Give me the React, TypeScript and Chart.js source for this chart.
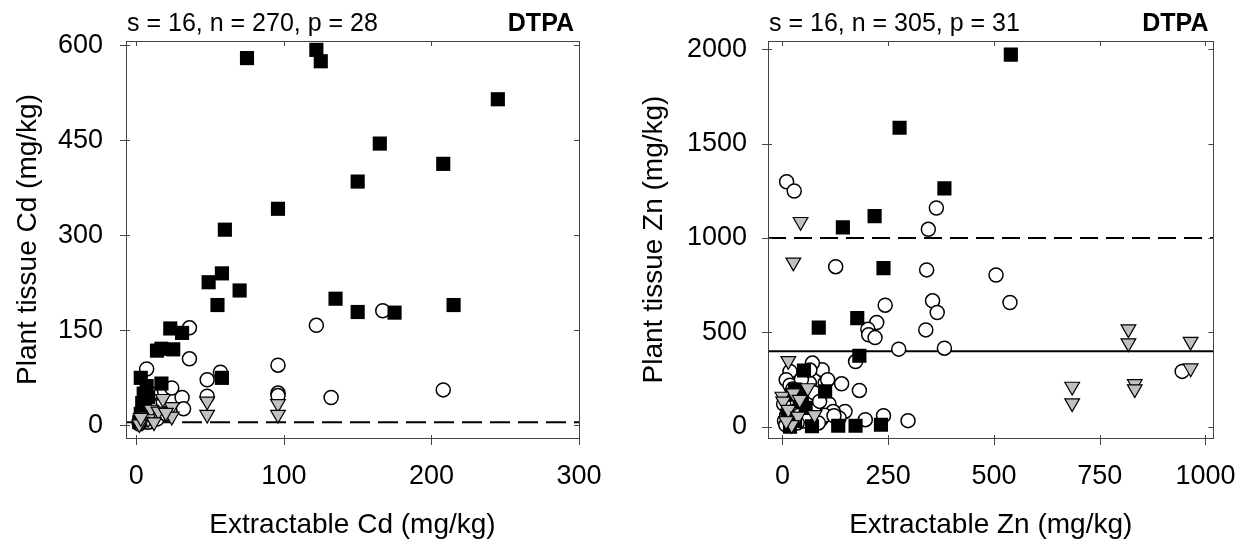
import React, { useEffect, useRef } from 'react';
import { Chart, registerables } from 'chart.js';
Chart.register(...registerables);

const FONT = "'Liberation Sans', Arial, Helvetica, sans-serif";

// ---------- Left panel: Cd ----------
const cdSquareX = [75, 122, 125, 245, 165, 208, 150, 96, 60, 58, 49, 70, 55, 135, 150, 175, 215, 23, 31, 14, 17, 25, 58, 3, 17, 7, 5, 8, 4, 6, 3, 5, 2];
const cdSquareY = [580, 593, 575, 515, 445, 413, 385, 342, 309, 240, 226, 213, 190, 200, 179, 178, 190, 153, 146, 118, 121, 120, 75, 75, 66, 62, 50, 45, 35, 28, 18, 10, 5];
const cdCircleX = [36, 122, 167, 36, 96, 48, 57, 7, 24, 31, 32, 208, 132, 96, 96, 48, 16, 12, 9, 5, 3, 8, 14, 20, 2, 6, 10, 4];
const cdCircleY = [154, 158, 181, 105, 95, 72, 84, 89, 59, 44, 26, 56, 44, 51, 47, 46, 30, 22, 35, 15, 8, 5, 10, 18, 2, 40, 50, 25];
const cdTriX = [48, 48, 96, 96, 24, 24, 18, 13, 6, 10, 8, 4, 2, 15, 20, 12, 3];
const cdTriY = [38, 17, 34, 17, 29, 14, 42, 17, 14, 25, 10, 6, 2, 22, 20, 5, 12];
const cdXTicks = [0, 100, 200, 300];
const cdYTicks = [0, 150, 300, 450, 600];
const cdLimit = 5;

// ---------- Right panel: Zn ----------
const znSquareX = [540, 277, 383, 218, 143, 239, 86, 177, 182, 51, 101, 30, 41, 46, 22, 70, 132, 173, 233, 18, 12, 30, 55];
const znSquareY = [1972, 1584, 1263, 1116, 1056, 840, 525, 575, 376, 298, 187, 196, 134, 169, 169, 2, 5, 5, 10, 0, 60, 30, 100];
const znCircleX = [10, 28, 364, 345, 126, 341, 505, 538, 243, 355, 366, 223, 202, 204, 219, 339, 275, 383, 945, 173, 140, 182, 297, 239, 196, 148, 134, 101, 94, 71, 18, 9, 18, 80, 92, 101, 64, 5, 10, 15, 20, 8, 30, 40, 50, 60, 45, 25, 65, 75, 55, 110, 120, 100, 85, 3, 35, 88, 122, 107];
const znCircleY = [1298, 1249, 1159, 1046, 848, 831, 804, 658, 644, 667, 605, 552, 517, 487, 472, 513, 411, 416, 293, 345, 227, 192, 32, 58, 37, 81, 46, 107, 302, 337, 293, 249, 220, 116, 41, 231, 231, 30, 60, 100, 150, 10, 80, 60, 30, 150, 250, 200, 300, 180, 60, 120, 80, 60, 20, 120, 20, 134, 58, 249];
const znTriX = [43, 26, 818, 818, 965, 965, 685, 685, 833, 833, 14, 60, 76, 0, 2, 14, 37, 26, 41, 22, 9];
const znTriY = [1086, 871, 517, 443, 451, 310, 213, 125, 227, 199, 349, 205, 63, 160, 134, 90, 55, 178, 143, 10, 30];
const znXTicks = [0, 250, 500, 750, 1000];
const znYTicks = [0, 500, 1000, 1500, 2000];
const znUpper = 1000;
const znLower = 400;

const zip = (xs: number[], ys: number[]) => xs.map((x, i) => ({ x, y: ys[i] }));

type Panel = {
  note: string;
  xTitle: string;
  yTitle: string;
  xMin: number; xMax: number; yMin: number; yMax: number;
  xTicks: number[]; yTicks: number[];
  sqX: number[]; sqY: number[]; ciX: number[]; ciY: number[]; trX: number[]; trY: number[];
  lines: { value: number; dash: number[] }[];
  yWidth: number; padRight: number; yTitlePad: number; yTickPad: number;
};

function framePlugin(p: Panel) {
  return {
    id: 'frame',
    beforeDatasetsDraw(chart: any) {
      const { ctx, chartArea: a, scales } = chart;
      ctx.save();
      ctx.strokeStyle = '#000';
      ctx.lineWidth = 2;
      for (const l of p.lines) {
        const y = scales.y.getPixelForValue(l.value);
        ctx.setLineDash(l.dash);
        ctx.beginPath();
        ctx.moveTo(a.left, y);
        ctx.lineTo(a.right, y);
        ctx.stroke();
      }
      ctx.restore();
    },
    afterDatasetsDraw(chart: any) {
      const { ctx, chartArea: a, scales } = chart;
      ctx.save();
      ctx.strokeStyle = '#444';
      ctx.lineWidth = 1;
      ctx.strokeRect(Math.round(a.left) + 0.5, Math.round(a.top) + 0.5, Math.round(a.right - a.left), Math.round(a.bottom - a.top));
      ctx.beginPath();
      for (const v of p.xTicks) {
        const x = Math.round(scales.x.getPixelForValue(v)) + 0.5;
        ctx.moveTo(x, a.bottom - 3); ctx.lineTo(x, a.bottom + 7);
        ctx.moveTo(x, a.top); ctx.lineTo(x, a.top + 5);
      }
      for (const v of p.yTicks) {
        const y = Math.round(scales.y.getPixelForValue(v)) + 0.5;
        ctx.moveTo(a.left - 6, y); ctx.lineTo(a.left + 4, y);
        ctx.moveTo(a.right - 5, y); ctx.lineTo(a.right, y);
      }
      ctx.stroke();
      ctx.fillStyle = '#000';
      ctx.textBaseline = 'alphabetic';
      ctx.font = `25px ${FONT}`;
      ctx.textAlign = 'left';
      ctx.fillText(p.note, a.left + 1, 31);
      ctx.font = `bold 25px ${FONT}`;
      ctx.textAlign = 'right';
      ctx.fillText('DTPA', a.right - 5, 31);
      ctx.restore();
    },
  };
}

function makeChart(canvas: HTMLCanvasElement, p: Panel) {
  const tickFont = { family: FONT, size: 27 };
  const titleFont = { family: FONT, size: 28 };
  return new Chart(canvas, {
    type: 'scatter',
    data: {
      datasets: [
        {
          label: 'triangles',
          data: zip(p.trX, p.trY),
          pointStyle: 'triangle',
          pointRotation: 180,
          pointRadius: 8.5,
          pointBackgroundColor: '#c0c0c0',
          pointBorderColor: '#000',
          pointBorderWidth: 1.2,
        },
        {
          label: 'squares',
          data: zip(p.sqX, p.sqY),
          pointStyle: 'rect',
          pointRadius: 10,
          pointBackgroundColor: '#000',
          pointBorderColor: '#000',
          pointBorderWidth: 0,
        },
        {
          label: 'circles',
          data: zip(p.ciX, p.ciY),
          pointStyle: 'circle',
          pointRadius: 7,
          pointBackgroundColor: '#fff',
          pointBorderColor: '#000',
          pointBorderWidth: 1.5,
        },
      ] as any,
    },
    options: {
      animation: false,
      responsive: false,
      events: [],
      layout: { padding: { top: 41, right: p.padRight, left: 0, bottom: 0 } },
      plugins: { legend: { display: false }, tooltip: { enabled: false } },
      scales: {
        x: {
          type: 'linear',
          min: p.xMin,
          max: p.xMax,
          afterBuildTicks: (s: any) => { s.ticks = p.xTicks.map((v) => ({ value: v })); },
          afterFit: (s: any) => { s.height = 110; },
          grid: { display: false, drawTicks: true, tickLength: 7 },
          border: { display: false },
          ticks: { font: tickFont, color: '#000', padding: 15, maxRotation: 0, autoSkip: false, callback: (v: any) => String(v) },
          title: { display: true, text: p.xTitle, font: titleFont, color: '#000', padding: { top: 0, bottom: 6 } },
        },
        y: {
          type: 'linear',
          min: p.yMin,
          max: p.yMax,
          afterBuildTicks: (s: any) => { s.ticks = p.yTicks.map((v) => ({ value: v })); },
          afterFit: (s: any) => { s.width = p.yWidth; },
          grid: { display: false, drawTicks: true, tickLength: 6 },
          border: { display: false },
          ticks: { font: tickFont, color: '#000', padding: p.yTickPad, autoSkip: false, callback: (v: any) => String(v) },
          title: { display: true, text: p.yTitle, font: titleFont, color: '#000', padding: { top: p.yTitlePad, bottom: 0 } },
        },
      },
    } as any,
    plugins: [framePlugin(p)],
  });
}

const leftPanel: Panel = {
  note: 's = 16, n = 270, p = 28',
  xTitle: 'Extractable Cd (mg/kg)',
  yTitle: 'Plant tissue Cd (mg/kg)',
  xMin: -7, xMax: 300, yMin: -20, yMax: 607,
  xTicks: cdXTicks, yTicks: cdYTicks,
  sqX: cdSquareX, sqY: cdSquareY, ciX: cdCircleX, ciY: cdCircleY, trX: cdTriX, trY: cdTriY,
  lines: [{ value: cdLimit, dash: [20, 8] }],
  yWidth: 126, padRight: 41, yTitlePad: 11, yTickPad: 17,
};

const rightPanel: Panel = {
  note: 's = 16, n = 305, p = 31',
  xTitle: 'Extractable Zn (mg/kg)',
  yTitle: 'Plant tissue Zn (mg/kg)',
  xMin: -34, xMax: 1019, yMin: -60, yMax: 2044,
  xTicks: znXTicks, yTicks: znYTicks,
  sqX: znSquareX, sqY: znSquareY, ciX: znCircleX, ciY: znCircleY, trX: znTriX, trY: znTriY,
  lines: [{ value: znUpper, dash: [18, 8] }, { value: znLower, dash: [] }],
  yWidth: 148, padRight: 30, yTitlePad: 17, yTickPad: 15,
};

function PanelChart({ panel, width, left }: { panel: Panel; width: number; left: number }) {
  const ref = useRef<HTMLCanvasElement>(null);
  useEffect(() => {
    if (!ref.current) return;
    const c = makeChart(ref.current, panel);
    return () => c.destroy();
  }, [panel]);
  return (
    <canvas
      ref={ref}
      width={width}
      height={548}
      style={{ position: 'absolute', left, top: 0, width, height: 548 }}
    />
  );
}

export default function App() {
  return (
    <div style={{ position: 'absolute', left: 0, top: 0, width: 1251, height: 548, background: '#fff', overflow: 'hidden' }}>
      <PanelChart panel={leftPanel} width={620} left={0} />
      <PanelChart panel={rightPanel} width={631} left={620} />
    </div>
  );
}
